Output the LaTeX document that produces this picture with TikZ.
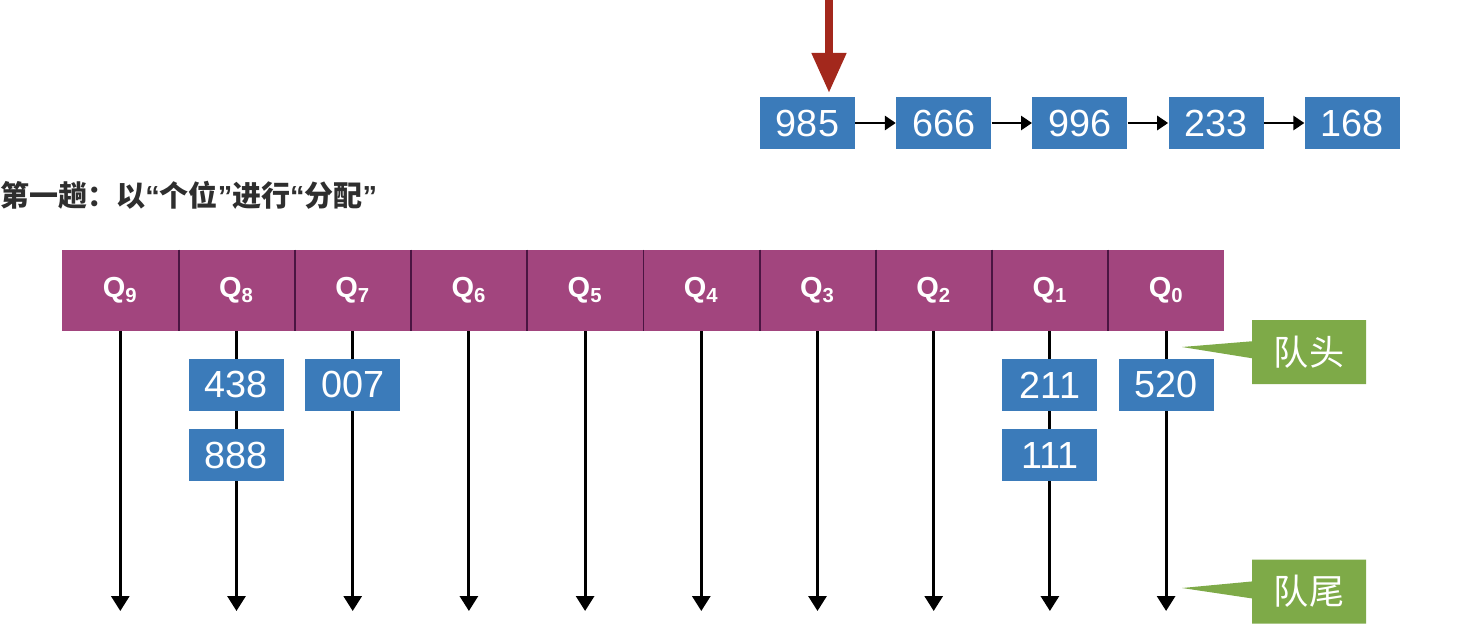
\documentclass[tikz,border=0pt]{standalone}
\usepackage{fontspec}
\setmainfont{Liberation Sans}
\newfontfamily\cjk{Noto Sans CJK SC}
\usetikzlibrary{arrows.meta,positioning,shapes.callouts}

\definecolor{boxblue}{HTML}{3B7BBA}
\definecolor{qmag}{HTML}{A2457E}
\definecolor{qdiv}{HTML}{4A1542}
\definecolor{taggreen}{HTML}{7EAA48}
\definecolor{dropred}{HTML}{A3281C}
\definecolor{titlegray}{HTML}{2E2E2E}

\newcommand\quoted[1]{{\rmfamily“}#1{\rmfamily”}}

\tikzset{
    numbox/.style={fill=boxblue, text=white, minimum width=1.9cm, minimum height=1.05cm,
        inner sep=0pt, font=\fontsize{21.5}{24}\selectfont},
    qcell/.style={fill=qmag, text=white, minimum width=2.324cm, minimum height=1.62cm,
        inner sep=0pt, font=\bfseries\fontsize{16.5}{18}\selectfont},
    linkarrow/.style={-{Triangle[width=0.28cm, length=0.22cm]}, line width=1.7pt, black},
    qarrow/.style={-{Triangle[width=0.36cm, length=0.3cm]}, line width=1.7pt, black},
    tag/.style={rectangle callout, fill=taggreen, text=white, minimum width=2.28cm,
        minimum height=1.28cm, inner sep=0pt, callout pointer width=0.34cm,
        font=\cjk\fontsize{20}{22}\selectfont},
}

\begin{document}
\begin{tikzpicture}[x=0.02cm, y=-0.02cm]
    \useasboundingbox (0,0) rectangle (1461,626);

    \node[numbox] (b985) at (807.5,123) {985};
    \node[numbox, right=0.81cm of b985] (b666) {666};
    \node[numbox, right=0.81cm of b666] (b996) {996};
    \node[numbox, right=0.81cm of b996] (b233) {233};
    \node[numbox, right=0.81cm of b233] (b168) {168};
    \draw[linkarrow] (b985) -- (b666);
    \draw[linkarrow] (b666) -- (b996);
    \draw[linkarrow] (b996) -- (b233);
    \draw[linkarrow] (b233) -- (b168);

    \coordinate (drop) at (829,-2);
    \draw[dropred, line width=0.16cm, -{Triangle[width=0.66cm, length=0.8cm]}, shorten >=0.07cm]
        (drop) -- (drop |- b985.north);

    \node[anchor=west, inner sep=0pt, text=titlegray, font=\cjk\bfseries\fontsize{16.5}{18}\selectfont]
        (title) at (0,195) {第一趟：以\quoted{个位}进行\quoted{分配}};

    \foreach \i in {0,...,9}
        \node[qcell] (q\i) at ({1166.1-116.2*\i},290.5) {Q\textsubscript{\i}};
    \foreach \i in {1,...,9}
        \draw[qdiv, line width=1pt] (q\i.north east) -- (q\i.south east);

    \foreach \i in {0,...,9} {
        \coordinate (e\i) at ({1166.1-116.2*\i},611);
        \draw[qarrow] (q\i.south) -- (e\i);
    }

    \node[numbox, below=0.54cm of q8] (n438) {438};
    \node[numbox, below=0.34cm of n438] (n888) {888};
    \node[numbox, below=0.54cm of q7] (n007) {007};
    \node[numbox, below=0.54cm of q1] (n211) {211};
    \node[numbox, below=0.34cm of n211] (n111) {111};
    \node[numbox, below=0.54cm of q0] (n520) {520};

    \coordinate (headtip) at (1182,347);
    \coordinate (tailtip) at (1182,588);
    \node[tag, callout absolute pointer={(headtip)}] (head) at (1309,352) {队头};
    \node[tag, callout absolute pointer={(tailtip)}] (tail) at (1309,591.5) {队尾};
\end{tikzpicture}
\end{document}
